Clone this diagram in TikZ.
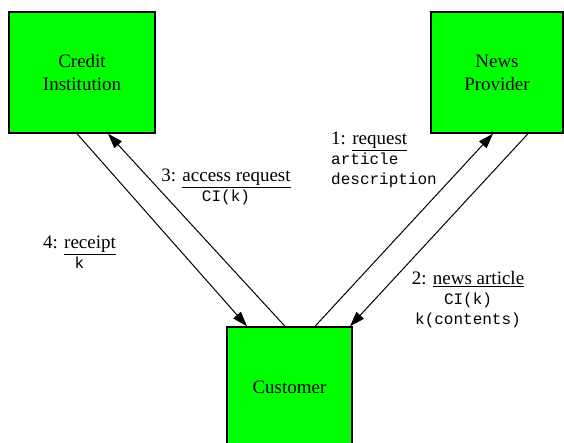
\documentclass[tikz,border=0pt]{standalone}
\usepackage{fontspec}
\setmainfont{Liberation Serif}
\setmonofont{Liberation Mono}
\usepackage{tikz}
\usetikzlibrary{arrows.meta,positioning}
\definecolor{partygreen}{rgb}{0,1,0}
\newcommand{\msg}[1]{{\fontsize{16}{19}\selectfont\ttfamily #1}}
\tikzset{
  party/.style={
    draw=black,
    line width=1.4pt,
    fill=partygreen,
    align=center,
    inner sep=0pt,
    minimum height=121pt,
    font=\fontsize{19}{23}\selectfont\rmfamily
  },
  flowlabel/.style={
    align=center,
    inner sep=0pt,
    font=\fontsize{19}{20}\selectfont\rmfamily
  },
  arrow/.style={
    -{Triangle[length=15pt,width=10pt]},
    line width=1pt,
    black
  }
}

\begin{document}
\begin{tikzpicture}[x=1pt,y=-1pt]
\clip (0,0) rectangle (564,443);
\node[party,minimum width=146pt] (credit) at (82,72.5) {Credit\\Institution};
\node[party,minimum width=132pt] (news) at (497,72.5) {News\\Provider};
\node[party,minimum width=125pt] (cust) at (289.5,387.5) {Customer};
% messages
\node[flowlabel,anchor=west,align=left] (req) at (331,160) {1: \underline{request}\\\msg{article}\\\msg{description}};
\node[flowlabel] (art) at (468,300) {2: \underline{news article}\\\msg{CI(k)}\\\msg{k(contents)}};
\node[flowlabel] (acc) at (226,187) {3: \underline{access request}\\\msg{CI(k)}};
\node[flowlabel] (rcpt) at (79.5,252) {4: \underline{receipt}\\\msg{k}};
\draw[arrow] ([xshift=-4.5pt]cust.north) -- ([xshift=26pt]credit.south);
\draw[arrow] ([xshift=-5pt]credit.south) -- ([xshift=-42.5pt]cust.north);
\draw[arrow] ([xshift=25.5pt]cust.north) -- ([xshift=-4pt]news.south);
\draw[arrow] ([xshift=31pt]news.south) -- ([xshift=60.5pt]cust.north);
\end{tikzpicture}
\end{document}
